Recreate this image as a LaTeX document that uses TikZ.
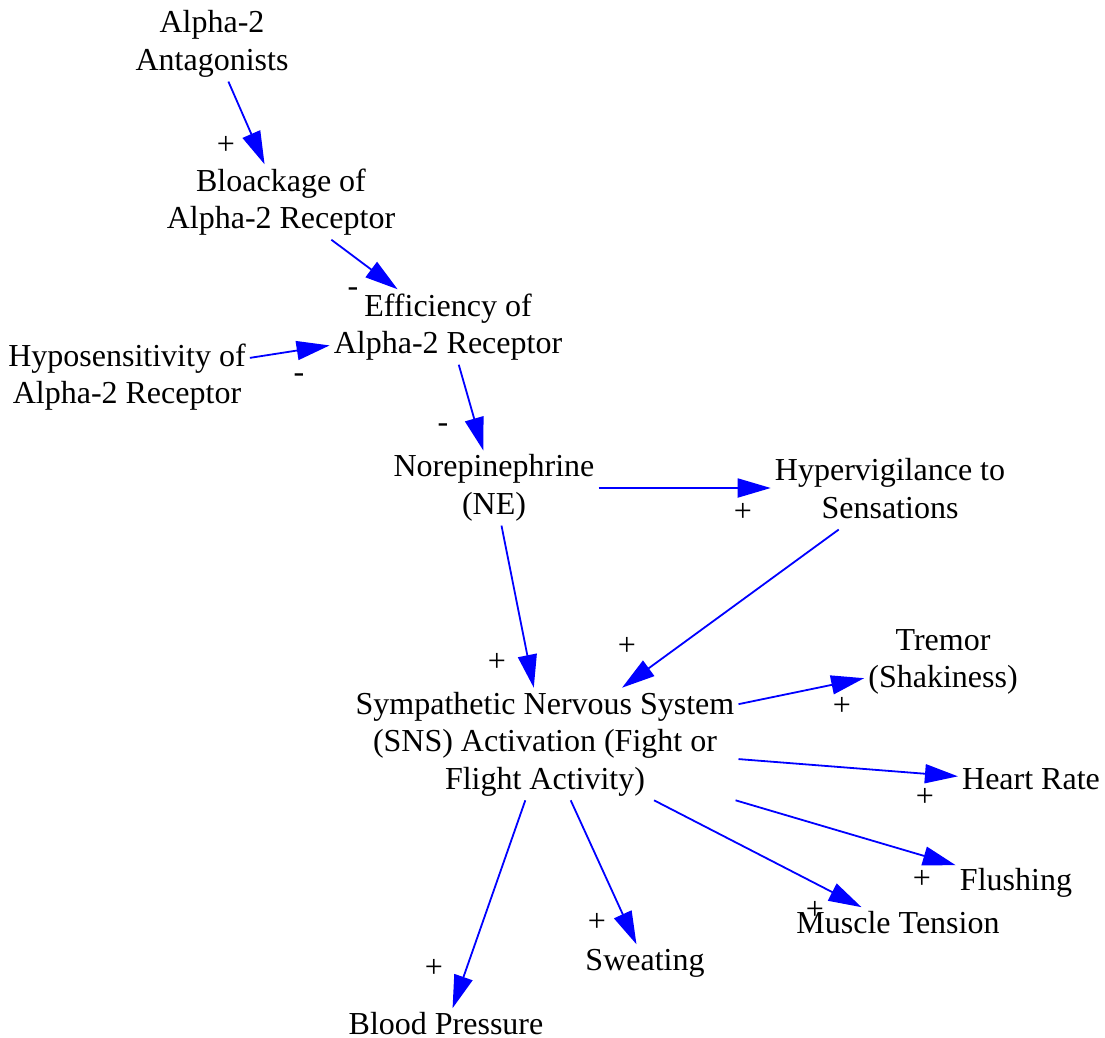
\documentclass[tikz,border=0pt]{standalone}
\usepackage{fontspec}
\setmainfont{Liberation Serif}
\usetikzlibrary{arrows.meta}
\newcommand\mystrutA{\vrule width 0pt height 22pt depth 0pt}
\newcommand\mystrutB{\vrule width 0pt height 0pt depth 7pt}
\begin{document}
\begin{tikzpicture}[x=1pt,y=-1pt,
  every node/.style={font=\fontsize{32}{37.5}\selectfont},
  var/.style={align=center, inner sep=4pt, execute at begin node=\mystrutA, execute at end node=\mystrutB},
  sgn/.style={inner sep=0pt},
  link/.style={draw=blue, line width=1.8pt, -{Triangle[length=33pt,width=19pt]}}]
\useasboundingbox (0,0) rectangle (1105,1038);
\node[var] (ant) at (212,44) {Alpha-2\\Antagonists};
\node[var] (blo) at (281,202) {Bloackage of\\Alpha-2 Receptor};
\node[var] (eff) at (448,327) {Efficiency of\\Alpha-2 Receptor};
\node[var] (hyp) at (127,377) {Hyposensitivity of\\Alpha-2 Receptor};
\node[var] (ne) at (494,488) {Norepinephrine\\(NE)};
\node[var] (hv) at (890,492) {Hypervigilance to\\Sensations};
\node[var] (sns) at (545,744) {Sympathetic Nervous System\\(SNS) Activation (Fight or\\Flight Activity)};
\node[var] (tre) at (943,662) {Tremor\\(Shakiness)};
\node[var] (hr) at (1031,782) {Heart Rate};
\node[var] (flu) at (1016,883) {Flushing};
\node[var] (mt) at (898,926) {Muscle Tension};
\node[var] (swe) at (645,963) {Sweating};
\node[var] (bp) at (446,1027) {Blood Pressure};

\draw[link] (ant) -- (blo);
\draw[link] (blo) -- (eff);
\draw[link] (hyp) -- (eff);
\draw[link] (eff) -- (ne);
\draw[link] (ne.east) -- (ne.east -| hv.west);
\draw[link] (ne) -- (sns);
\draw[link] (hv) -- (sns);
\draw[link] (sns) -- (tre);
\draw[link] (sns) -- (hr);
\draw[link] (sns) -- (flu);
\draw[link] (sns) -- (mt);
\draw[link] (sns) -- (swe);
\draw[link] (sns) -- (bp);

\node[sgn] (s1) at (226,145) {+};
\node[sgn] (s2) at (353,292) {-};
\node[sgn] (s3) at (299,378) {-};
\node[sgn] (s4) at (443,428) {-};
\node[sgn] (s5) at (743,512) {+};
\node[sgn] (s6) at (497,662) {+};
\node[sgn] (s7) at (627,646) {+};
\node[sgn] (s8) at (842,706) {+};
\node[sgn] (s9) at (925,797) {+};
\node[sgn] (s10) at (922,879) {+};
\node[sgn] (s11) at (815,910) {+};
\node[sgn] (s12) at (597,922) {+};
\node[sgn] (s13) at (434,968) {+};
\end{tikzpicture}
\end{document}
